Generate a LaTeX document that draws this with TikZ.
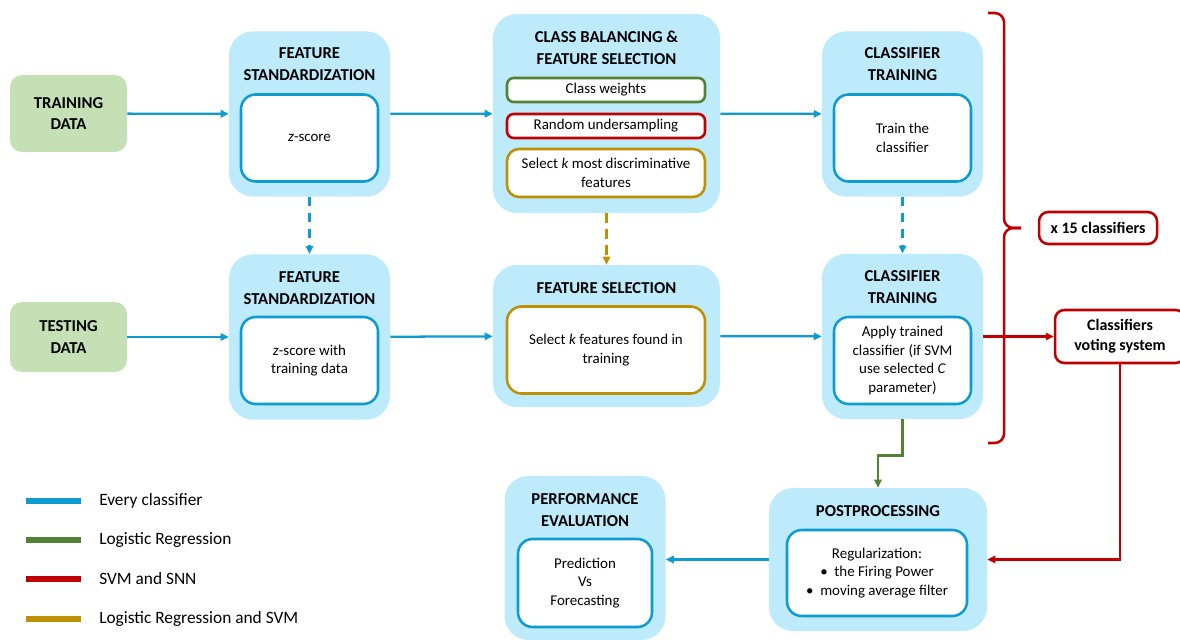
\documentclass[tikz,border=0pt]{standalone}
\usepackage{fontspec}
\setmainfont{Carlito}
\usetikzlibrary{arrows.meta}

\definecolor{flowblue}{HTML}{0E9BD0}
\definecolor{stagefill}{HTML}{BDEBFC}
\definecolor{datafill}{HTML}{C5E0B4}
\definecolor{lrgreen}{HTML}{548235}
\definecolor{svmred}{HTML}{C00000}
\definecolor{lrsvmgold}{HTML}{BF9000}

\tikzset{
  stagebox/.style={fill=stagefill, rounded corners=18pt, minimum width=120.75pt, minimum height=124pt, inner sep=0pt},
  databox/.style={fill=datafill, rounded corners=9pt, minimum width=87.75pt, align=center, font=\bfseries\fontsize{12.5}{16}\selectfont},
  headtext/.style={align=center, inner sep=0pt, font=\bfseries\fontsize{12.5}{16.5}\selectfont},
  innerbox/.style={draw=flowblue, line width=1.9pt, fill=white, rounded corners=11pt, minimum width=102.75pt, minimum height=65.25pt, align=center, font=\fontsize{11.2}{13.8}\selectfont},
  optbox/.style={line width=1.9pt, fill=white, rounded corners=5pt, minimum width=148.5pt, align=center, inner sep=0pt, font=\fontsize{11.2}{13.8}\selectfont},
  redbox/.style={draw=svmred, line width=1.9pt, fill=white, rounded corners=7pt, align=center, inner sep=0pt, font=\bfseries\fontsize{12}{15}\selectfont},
  flow/.style={flowblue, line width=1.7pt, -{Triangle[length=6pt,width=5.5pt]}},
  dashflow/.style={flow, dash pattern=on 7pt off 5pt},
}

\begin{document}
\begin{tikzpicture}[x=0.75pt, y=-0.75pt]
\useasboundingbox (0,0) rectangle (1180,639);

% input data
\node[databox, minimum height=57.75pt] (train) at (68.5,113.5) {TRAINING\\DATA};
\node[databox, minimum height=52.5pt] (test) at (68.5,337) {TESTING\\DATA};

% training branch
\node[stagebox] (fsa) at (309.5,114) {};
\node[headtext] (fsahead) at (309.5,64) {FEATURE\\STANDARDIZATION};
\node[innerbox] (fsain) at (309.5,138) {\textit{z}-score};

\node[stagebox, minimum width=170.25pt, minimum height=149.25pt] (cba) at (606.5,113.5) {};
\node[headtext] (cbahead) at (606.5,48) {CLASS BALANCING \&\\FEATURE SELECTION};
\node[optbox, draw=lrgreen, minimum height=18pt] (weights) at (606,90) {Class weights};
\node[optbox, draw=svmred, minimum height=18pt] (undersamp) at (606,126) {Random undersampling};
\node[optbox, draw=lrsvmgold, minimum height=36pt, rounded corners=9pt] (kbest) at (606,173) {Select \textit{k} most discriminative\\features};

\node[stagebox] (cta) at (902.5,114) {};
\node[headtext] (ctahead) at (902.5,64) {CLASSIFIER\\TRAINING};
\node[innerbox] (ctain) at (902.5,138) {Train the\\classifier};

% testing branch
\node[stagebox] (fsb) at (309.5,337) {};
\node[headtext] (fsbhead) at (309.5,288) {FEATURE\\STANDARDIZATION};
\node[innerbox] (fsbin) at (309.5,360.5) {\textit{z}-score with\\training data};

\node[stagebox, minimum width=170.25pt, minimum height=106.5pt] (sel) at (606.5,336) {};
\node[headtext] (selhead) at (606.5,288) {FEATURE SELECTION};
\node[innerbox, draw=lrsvmgold, minimum width=148.5pt] (selin) at (606,350) {Select \textit{k} features found in\\training};

\node[stagebox] (ctb) at (902.5,336.5) {};
\node[headtext] (ctbhead) at (902.5,287.5) {CLASSIFIER\\TRAINING};
\node[innerbox] (ctbin) at (902.5,360.5) {Apply trained\\classifier (if SVM\\use selected \textit{C}\\parameter)};

% repeated for every classifier
\coordinate (bracetop) at (988,13);
\coordinate (bracetip) at (1021,228);
\coordinate (bracebot) at (988,443);
\draw[svmred, line width=1.9pt, rounded corners=7pt] (bracetop) -- (1004,13) -- (1004,228) -- (bracetip);
\draw[svmred, line width=1.9pt, rounded corners=7pt] (bracebot) -- (1004,443) -- (1004,228) -- (bracetip);
\node[redbox, minimum width=88.5pt, minimum height=24pt] (times) at (1098,228) {x 15 classifiers};
\node[redbox, minimum width=97.5pt, minimum height=39.75pt] (vote) at (1120,336.5) {Classifiers\\voting system};

% output
\node[stagebox, minimum width=163.5pt, minimum height=107.25pt] (post) at (878,559.5) {};
\node[headtext] (posthead) at (878,511) {POSTPROCESSING};
\node[innerbox, minimum width=135pt, minimum height=64.5pt] (postin) at (877,573) {Regularization:\\\textbullet\ \ the Firing Power\\\textbullet\ \ moving average filter};

\node[stagebox, minimum height=123pt] (perf) at (585,558) {};
\node[headtext] (perfhead) at (585,510) {PERFORMANCE\\EVALUATION};
\node[innerbox, minimum width=100.5pt, minimum height=66pt] (perfin) at (585,583) {Prediction\\Vs\\Forecasting};

% connectors
\draw[flow] (train) -- (fsa);
\draw[flow] (fsa) -- (cba);
\draw[flow] (cba) -- (cta);
\draw[flow] (test) -- (fsb);
\draw[flow] (fsb) -- (sel);
\draw[flow] (sel) -- (ctb);
\draw[dashflow] (fsa) -- (fsb);
\draw[dashflow, lrsvmgold] (cba) -- (sel);
\draw[dashflow] (cta) -- (ctb);
\draw[flow, svmred] (ctb) -- (vote);
\draw[flow, svmred] (vote.south) |- (post.east);
\draw[flow, lrgreen] (ctb.south) -- ++(0,36) -| (post.north);
\draw[flow] (post.west) -- (perf.east |- post.west);

% legend
\foreach \ly/\col/\txt [count=\i] in {501/flowblue/Every classifier, 540/lrgreen/Logistic Regression, 579/svmred/SVM and SNN, 619/lrsvmgold/Logistic Regression and SVM} {
  \draw[\col, line width=4.5pt] (26,\ly) -- (81,\ly);
  \node[anchor=west, inner sep=0pt, font=\fontsize{13}{15}\selectfont] (legend\i) at (99,\ly) {\txt};
}
\end{tikzpicture}
\end{document}
